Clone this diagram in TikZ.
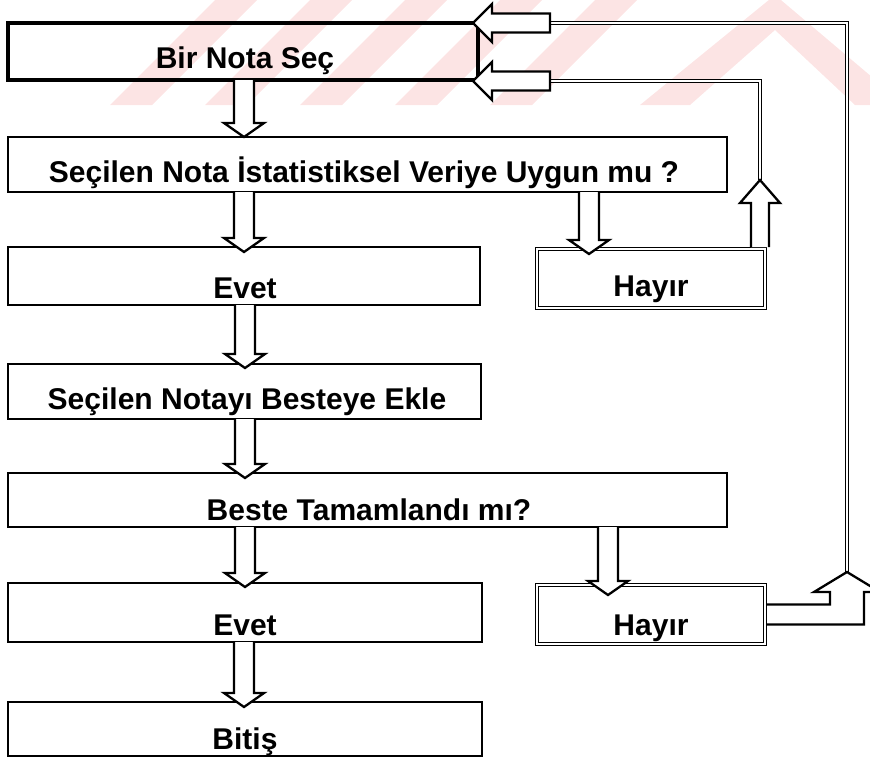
\documentclass[tikz,border=0pt]{standalone}
\usepackage{fontspec}
\setmainfont{Liberation Sans}
\usetikzlibrary{calc}
\definecolor{wmark}{RGB}{252,228,228}
\tikzset{
  box/.style={draw, line width=2.2pt, inner sep=0pt, outer sep=0pt, anchor=north west, fill=none},
  hbox/.style={draw, double, line width=0.9pt, double distance=2.2pt, inner sep=0pt, outer sep=0pt, anchor=north west},
  lbl/.style={anchor=base, inner sep=0pt, font=\fontsize{30}{36}\selectfont\bfseries},
  blockarr/.style={draw, fill=white, line width=2.3pt, line join=miter},
  fb/.style={draw, double, line width=1pt, double distance=2.2pt},
}
% vertical block arrow pointing down: #1 x, #2 source node, #3 target node, #4 overlap
\newcommand{\downblk}[4]{%
  \draw[blockarr] let \p1=(#2.south), \p2=(#3.north) in
    (#1pt-10pt,\y1) -- (#1pt-10pt,\y2-#4pt+14pt) -- (#1pt-20pt,\y2-#4pt+14pt) --
    (#1pt,\y2-#4pt) -- (#1pt+20pt,\y2-#4pt+14pt) -- (#1pt+10pt,\y2-#4pt+14pt) -- (#1pt+10pt,\y1);}
% left-pointing block arrow: #1 tip coordinate, #2 tail x (pt number)
\newcommand{\leftblk}[2]{%
  \draw[blockarr] let \p1=(#1) in
    (#2pt,\y1+9.5pt) -- (\x1+19pt,\y1+9.5pt) -- (\x1+19pt,\y1+19pt) -- (\x1,\y1) --
    (\x1+19pt,\y1-19pt) -- (\x1+19pt,\y1-9.5pt) -- (#2pt,\y1-9.5pt) -- cycle;}
\begin{document}
\begin{tikzpicture}[x=1pt,y=-1pt]
\useasboundingbox (0,0) rectangle (870,758);
% faint watermark stripes
\begin{scope}
  \clip (0,0) rectangle (870,105);
  \foreach \bx in {110,205,300,395,490} {
    \fill[wmark] (\bx,105) -- (\bx+42,105) -- (\bx+147,0) -- (\bx+105,0) -- cycle;
  }
  \fill[wmark] (640,105) -- (690,105) -- (775,30) -- (855,105) -- (905,105) -- (775,-5) -- cycle;
\end{scope}

% boxes
\node[box, line width=3.5pt, minimum width=470pt, minimum height=57pt] (b1) at (8,23) {};
\node[box, minimum width=719pt, minimum height=55pt] (b2) at (8,137) {};
\node[box, minimum width=472pt, minimum height=58pt] (e1) at (8,247) {};
\node[hbox, minimum width=228pt, minimum height=59pt] (h1) at (537,249) {};
\node[box, minimum width=473pt, minimum height=55pt] (b4) at (8,364) {};
\node[box, minimum width=719pt, minimum height=54pt] (b5) at (8,473) {};
\node[box, minimum width=474pt, minimum height=59pt] (e2) at (8,583) {};
\node[hbox, minimum width=228pt, minimum height=59pt] (h2) at (537,585) {};
\node[box, minimum width=474pt, minimum height=54pt] (b7) at (8,702) {};

% texts
\node[lbl] (t1) at (245,68) {Bir Nota Seç};
\node[lbl] (t2) at (364,182) {Seçilen Nota İstatistiksel Veriye Uygun mu ?};
\node[lbl] (t3) at (245,298) {Evet};
\node[lbl] (th1) at (651,296) {Hayır};
\node[lbl] (t4) at (247,409) {Seçilen Notayı Besteye Ekle};
\node[lbl] (t5) at (369,520) {Beste Tamamlandı mı?};
\node[lbl] (t6) at (245,635) {Evet};
\node[lbl] (th2) at (651,635) {Hayır};
\node[lbl] (t7) at (245,749) {Bitiş};

% feedback route coordinates
\coordinate (u1) at (760,180);
\coordinate (k1) at (760,81);
\coordinate (s1) at (550,81);
\coordinate (u2) at (847,572);
\coordinate (k2) at (847,23);
\coordinate (s2) at (550,23);

\draw[fb] (u1) -- (k1) -- (s1);
\draw[fb] (u2) -- (k2) -- (s2);

% down block arrows
\downblk{244}{b1}{b2}{0}
\downblk{244}{b2}{e1}{5}
\downblk{245}{e1}{b4}{4}
\downblk{245}{b4}{b5}{5}
\downblk{245}{b5}{e2}{4}
\downblk{244}{e2}{b7}{5}
\downblk{589}{b2}{h1}{5}
\downblk{608}{b5}{h2}{10}

% up block arrow from first Hayir
\draw[blockarr] let \p1=(h1.north), \p2=(u1) in
  (\x2-9pt,\y1+2pt) -- (\x2-9pt,\y2-23pt) -- (\x2-20pt,\y2-23pt) -- (\x2,\y2) --
  (\x2+20pt,\y2-23pt) -- (\x2+9pt,\y2-23pt) -- (\x2+9pt,\y1+2pt);

% bent block arrow from second Hayir
\draw[blockarr] let \p1=(h2.east), \p2=(u2) in
  (\x1+2pt,\y1+10pt) -- (\x2-17pt,\y1+10pt) -- (\x2-17pt,\y2-20pt) -- (\x2-33pt,\y2-20pt) --
  (\x2,\y2) -- (\x2+33pt,\y2-20pt) -- (\x2+17pt,\y2-20pt) -- (\x2+17pt,\y1-10pt) -- (\x1+2pt,\y1-10pt);

% left block arrows into the first box
\leftblk{$(b1.north east)+(-5pt,0)$}{550}
\leftblk{$(b1.south east)+(-5pt,-1pt)$}{550}
\end{tikzpicture}
\end{document}
